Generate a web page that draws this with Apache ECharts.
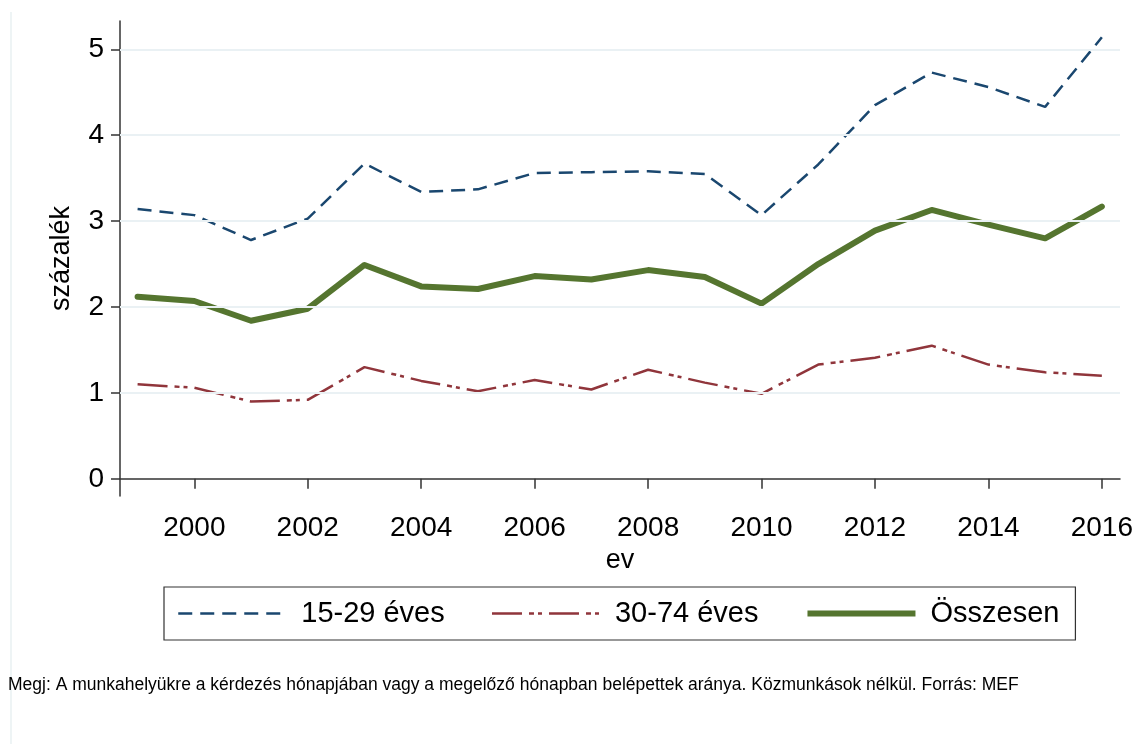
<!DOCTYPE html>
<html>
<head>
<meta charset="utf-8">
<script src="https://cdn.jsdelivr.net/npm/echarts@6/dist/echarts.min.js"></script>
<style>
  html, body { margin: 0; padding: 0; background: #fff; }
  #chart { width: 1140px; height: 744px; }
</style>
</head>
<body>
<div id="chart"></div>
<script>
// Belépési arány korcsoportonként (Stata-stílusú vonaldiagram)
const years = [1999, 2000, 2001, 2002, 2003, 2004, 2005, 2006, 2007, 2008,
  2009, 2010, 2011, 2012, 2013, 2014, 2015, 2016]
const fiatal = [3.14, 3.07, 2.78, 3.03, 3.67, 3.34, 3.37, 3.56, 3.57, 3.58,
  3.55, 3.07, 3.66, 4.35, 4.73, 4.56, 4.33, 5.14] // 15-29 éves
const idosebb = [1.10, 1.06, 0.90, 0.92, 1.30, 1.14, 1.02, 1.15, 1.04, 1.27,
  1.12, 0.99, 1.33, 1.41, 1.55, 1.33, 1.24, 1.20] // 30-74 éves
const osszes = [2.12, 2.07, 1.84, 1.98, 2.49, 2.24, 2.21, 2.36, 2.32, 2.43,
  2.35, 2.04, 2.50, 2.89, 3.13, 2.96, 2.80, 3.17]
const xTicks = [2000, 2002, 2004, 2006, 2008, 2010, 2012, 2014, 2016]
const yTicks = [0, 1, 2, 3, 4, 5]
const gridVals = [1, 2, 3, 4, 5]

const font = 'Liberation Sans, Arial, sans-serif'
const axisCol = '#333'
const blue = '#1a476f', red = '#90353b', green = '#55752f'
const blueDash = [14, 8]
const redDash = [30, 7, 5, 4, 4, 7]
const pairs = arr => arr.map((v, i) => [years[i], v])

const chart = echarts.init(document.getElementById('chart'), null, { renderer: 'canvas' })

chart.setOption({
  animation: false,
  backgroundColor: '#fff',
  textStyle: { fontFamily: font },
  grid: { left: 120, right: 20, top: 21, bottom: 248 },
  xAxis: {
    type: 'value', min: 1998.69, max: 2016.32,
    name: 'ev', nameLocation: 'middle', nameGap: 48,
    nameTextStyle: { color: '#000', fontSize: 27, fontFamily: font },
    axisLine: { show: true, lineStyle: { color: axisCol, width: 1.5 } },
    axisTick: { show: true, length: 10, customValues: xTicks, lineStyle: { color: axisCol, width: 1.5 } },
    axisLabel: { customValues: xTicks, formatter: v => String(v), color: '#000', fontSize: 28, margin: 18, fontFamily: font },
    splitLine: { show: false },
  },
  yAxis: {
    type: 'value', min: -0.2, max: 5.33,
    name: 'százalék', nameLocation: 'middle', nameGap: 45,
    nameTextStyle: { color: '#000', fontSize: 27, fontFamily: font },
    axisLine: { show: true, lineStyle: { color: axisCol, width: 1.5 } },
    axisTick: { show: true, length: 9, customValues: yTicks, lineStyle: { color: axisCol, width: 1.5 } },
    axisLabel: { customValues: yTicks, color: '#000', fontSize: 28, margin: 16, fontFamily: font },
    splitLine: { show: false },
  },
  legend: {
    left: 164, top: 587,
    padding: [12, 16, 12, 13],
    borderColor: axisCol, borderWidth: 1.2,
    itemWidth: 108, itemHeight: 14, itemGap: 46,
    itemStyle: { opacity: 0 },
    textStyle: { color: '#000', fontSize: 29, fontFamily: font, padding: [0, 0, 0, 10] },
    data: [
      { name: '15-29 éves', lineStyle: { color: blue, width: 2.5, type: blueDash } },
      { name: '30-74 éves', lineStyle: { color: red, width: 2.5, type: redDash } },
      { name: 'Összesen', lineStyle: { color: green, width: 6, cap: 'butt' } },
    ],
  },
  graphic: [
    { type: 'line', shape: { x1: 11, y1: 12, x2: 11, y2: 744 }, style: { stroke: '#e9f0f2', lineWidth: 1.5 }, silent: true },
    { type: 'text', left: 8, top: 676,
      style: { text: 'Megj: A munkahelyükre a kérdezés hónapjában vagy a megelőző hónapban belépettek aránya. Közmunkások nélkül. Forrás: MEF',
        fill: '#000', font: '17.5px ' + font } },
  ],
  series: [
    {
      type: 'line', name: 'grid', data: [], silent: true, z: 1,
      markLine: {
        silent: true, symbol: 'none', label: { show: false },
        lineStyle: { color: '#eaf1f4', width: 2, type: 'solid' },
        data: gridVals.map(v => ({ yAxis: v })),
      },
    },
    {
      type: 'line', name: '15-29 éves', data: pairs(fiatal), showSymbol: false, symbol: 'none',
      lineStyle: { color: blue, width: 2.5, type: blueDash },
      itemStyle: { color: blue },
    },
    {
      type: 'line', name: '30-74 éves', data: pairs(idosebb), showSymbol: false, symbol: 'none',
      lineStyle: { color: red, width: 2.5, type: redDash },
      itemStyle: { color: red },
    },
    {
      type: 'line', name: 'Összesen', data: pairs(osszes), showSymbol: false, symbol: 'none',
      lineStyle: { color: green, width: 6, cap: 'round', join: 'round' },
      itemStyle: { color: green },
    },
  ],
})
</script>
</body>
</html>
